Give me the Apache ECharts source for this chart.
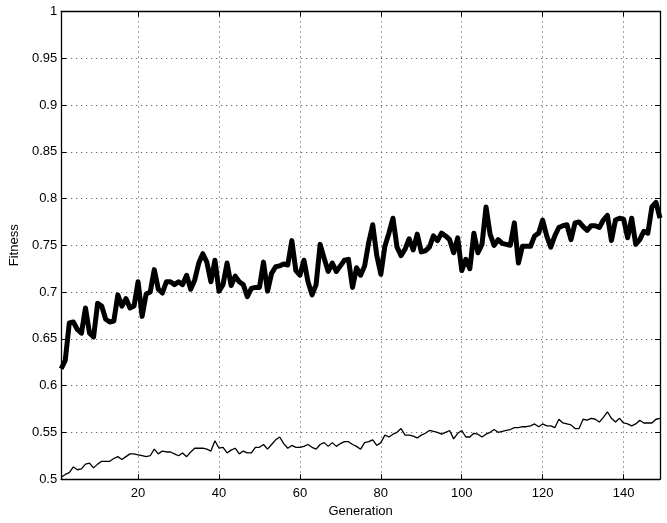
<!DOCTYPE html>
<html>
<head>
<meta charset="utf-8">
<script src="https://cdn.jsdelivr.net/npm/echarts@6/dist/echarts.min.js"></script>
<style>html,body{margin:0;padding:0;background:#fff}#c{width:667px;height:523px}</style>
</head>
<body>
<div id="c"></div>
<script>
const generationStart = 1;
const bestFitness = [
0.618,0.627,0.667,0.668,0.660,0.656,0.683,0.656,0.652,0.688,
0.685,0.671,0.668,0.669,0.697,0.685,0.693,0.683,0.685,0.711,
0.674,0.698,0.700,0.724,0.703,0.699,0.711,0.711,0.708,0.711,
0.708,0.718,0.703,0.713,0.731,0.741,0.732,0.711,0.734,0.701,
0.708,0.731,0.707,0.717,0.711,0.708,0.695,0.704,0.705,0.705,
0.732,0.701,0.720,0.727,0.728,0.730,0.729,0.755,0.723,0.718,
0.734,0.711,0.697,0.708,0.751,0.736,0.722,0.731,0.722,0.728,
0.734,0.735,0.705,0.726,0.718,0.728,0.753,0.772,0.739,0.719,
0.749,0.763,0.779,0.748,0.739,0.746,0.757,0.745,0.762,0.743,
0.744,0.748,0.760,0.755,0.763,0.760,0.756,0.742,0.758,0.723,
0.735,0.725,0.763,0.742,0.751,0.791,0.762,0.750,0.756,0.752,
0.751,0.750,0.774,0.731,0.749,0.749,0.749,0.760,0.763,0.777,
0.760,0.748,0.760,0.769,0.771,0.772,0.756,0.774,0.775,0.770,
0.766,0.771,0.771,0.769,0.777,0.782,0.755,0.777,0.779,0.778,
0.758,0.779,0.751,0.756,0.765,0.763,0.791,0.796,0.779
];
const meanFitness = [
0.502,0.505,0.507,0.513,0.510,0.511,0.516,0.517,0.512,0.516,
0.519,0.519,0.519,0.522,0.524,0.521,0.524,0.527,0.527,0.526,
0.525,0.524,0.525,0.532,0.527,0.530,0.529,0.529,0.527,0.525,
0.528,0.524,0.529,0.533,0.533,0.533,0.532,0.530,0.541,0.533,
0.534,0.528,0.531,0.533,0.527,0.530,0.528,0.528,0.534,0.534,
0.537,0.532,0.537,0.542,0.545,0.538,0.533,0.536,0.534,0.534,
0.535,0.537,0.534,0.532,0.537,0.539,0.535,0.539,0.535,0.538,
0.540,0.540,0.537,0.535,0.532,0.539,0.540,0.542,0.536,0.539,
0.547,0.545,0.548,0.550,0.554,0.547,0.547,0.546,0.544,0.547,
0.549,0.552,0.551,0.550,0.548,0.550,0.552,0.543,0.549,0.552,
0.545,0.545,0.549,0.548,0.545,0.548,0.550,0.553,0.550,0.551,
0.552,0.553,0.555,0.555,0.556,0.556,0.557,0.559,0.556,0.559,
0.557,0.557,0.555,0.564,0.560,0.559,0.558,0.554,0.554,0.564,
0.563,0.565,0.564,0.561,0.566,0.572,0.565,0.561,0.565,0.560,
0.559,0.557,0.559,0.563,0.560,0.560,0.560,0.564,0.565
];
const xTicks = [20,40,60,80,100,120,140];
const xAxisName = 'Generation';
const yAxisName = 'Fitness';

const toPairs = arr => arr.map((v,i)=>[generationStart+i, v]);
const xMax = generationStart + bestFitness.length - 1;
const font = 'Liberation Sans, Arial, Helvetica, sans-serif';
const fs = 13;
const gridLine = {show:true, lineStyle:{color:'#444', width:1, type:[1,4]}};

const chart = echarts.init(document.getElementById('c'), null, {renderer:'canvas'});
chart.setOption({
  animation:false,
  backgroundColor:'#fff',
  grid:{left:59, right:7, top:11.5, bottom:36.5, containLabel:false},
  xAxis:[{
    type:'value', min:generationStart, max:xMax, position:'bottom',
    name:xAxisName, nameLocation:'middle', nameGap:21,
    nameTextStyle:{color:'#000', fontFamily:font, fontSize:fs},
    axisLine:{show:true, lineStyle:{color:'#000', width:1.3}},
    axisTick:{show:true, inside:true, length:5, customValues:xTicks, lineStyle:{color:'#000'}},
    axisLabel:{show:true, color:'#000', fontFamily:font, fontSize:fs, margin:8, customValues:xTicks},
    splitLine:Object.assign({customValues:xTicks}, gridLine)
  },{
    type:'value', min:generationStart, max:xMax, position:'top',
    axisLine:{show:true, lineStyle:{color:'#000', width:1.3}},
    axisTick:{show:true, inside:true, length:5, customValues:xTicks, lineStyle:{color:'#000'}},
    axisLabel:{show:false}, splitLine:{show:false}
  }],
  yAxis:[{
    type:'value', min:0.5, max:1, interval:0.05, position:'left',
    name:yAxisName, nameLocation:'middle', nameGap:35, nameRotate:90,
    nameTextStyle:{color:'#000', fontFamily:font, fontSize:fs},
    axisLine:{show:true, lineStyle:{color:'#000', width:1.3}},
    axisTick:{show:true, inside:true, length:5, lineStyle:{color:'#000'}},
    axisLabel:{show:true, color:'#000', fontFamily:font, fontSize:fs, margin:4},
    splitLine:gridLine
  },{
    type:'value', min:0.5, max:1, interval:0.05, position:'right',
    axisLine:{show:true, lineStyle:{color:'#000', width:1.3}},
    axisTick:{show:true, inside:true, length:5, lineStyle:{color:'#000'}},
    axisLabel:{show:false}, splitLine:{show:false}
  }],
  series:[{
    type:'line', data:toPairs(bestFitness), xAxisIndex:0, yAxisIndex:0,
    showSymbol:false, symbol:'none', lineStyle:{color:'#000', width:5, join:'round'}, z:3
  },{
    type:'line', data:toPairs(meanFitness), xAxisIndex:0, yAxisIndex:0,
    showSymbol:false, symbol:'none', lineStyle:{color:'#000', width:1.3}, z:3
  }]
});
</script>
</body>
</html>
